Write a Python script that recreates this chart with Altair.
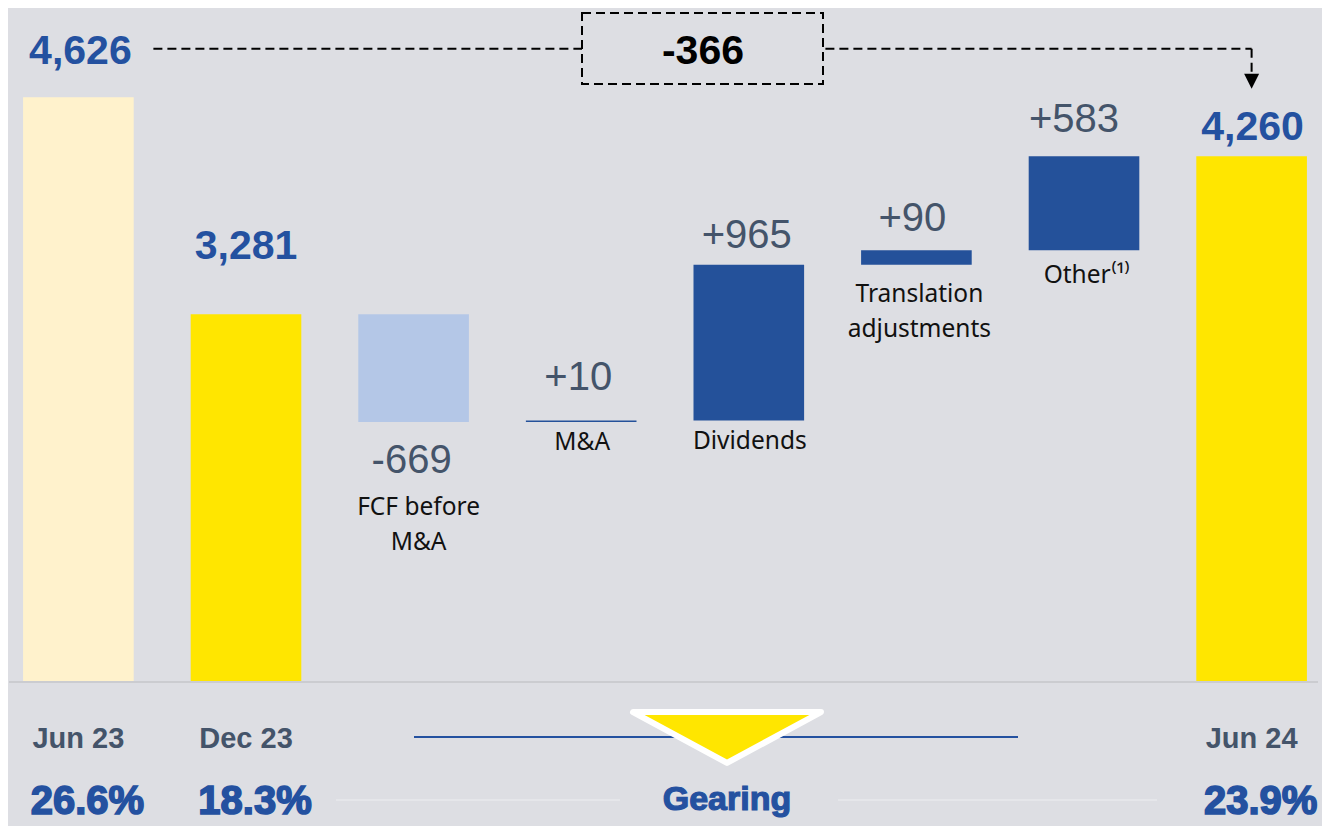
import altair as alt
import pandas as pd

# ---------------- data ----------------
CATS = ["Jun 23", "Dec 23", "FCF before M&A", "M&A", "Dividends",
        "Translation adjustments", "Other", "Jun 24"]
NAMES = [None, None, "FCF before\nM&A", "M&A", "Dividends",
         "Translation\nadjustments", "Other⁽¹⁾", None]
KIND = ["total", "total", "step", "step", "step", "step", "step", "total"]
VALUES = [4626, 3281, -669, 10, 965, 90, 583, 4260]
COLORS = ["#fff2cc", "#ffe600", "#b4c7e7", "#24519a", "#24519a",
          "#24519a", "#24519a", "#ffe600"]
PERIODS = ["Jun 23", "Dec 23", "Jun 24"]
GEARING = [26.6, 18.3, 23.9]
BASE = 1000  # truncated baseline of the original chart

# ---------------- derived table ----------------
rows = []
running = None
for c, n, k, v, col in zip(CATS, NAMES, KIND, VALUES, COLORS):
    if k == "total":
        y0, y1 = BASE, v
        running = v
        lab = f"{v:,}"
    else:
        y0, y1 = running, running + v
        running = y1
        lab = f"{v:+d}"
    rows.append(dict(cat=c, name=n, kind=k, y0=y0, y1=y1, top=max(y0, y1),
                     bottom=min(y0, y1), color=col, label=lab))
df = pd.DataFrame(rows)
net_change = f"{VALUES[-1] - VALUES[0]:+,}"

gdf = pd.DataFrame({"cat": PERIODS, "g": [f"{g:.1f}%" for g in GEARING]})

# ---------------- layout / scales ----------------
W, H = 1314, 818
PLOT_BASE_PX = 674
Y_TOP = 5180
Y_BOTTOM = Y_TOP - (Y_TOP - BASE) * H / PLOT_BASE_PX

xscale = alt.Scale(domain=CATS, paddingInner=0.34, paddingOuter=0.09)
yscale = alt.Scale(domain=[Y_BOTTOM, Y_TOP], zero=False, nice=False)
X = alt.X("cat:N", scale=xscale, axis=None, sort=CATS)

BLUE = "#2451a0"
SLATE = "#44546a"
BG = "#dddee3"
one = pd.DataFrame({"k": [0]})

bars = alt.Chart(df).mark_bar().encode(
    x=X,
    y=alt.Y("y0:Q", scale=yscale, axis=None),
    y2="y1:Q",
    color=alt.Color("color:N", scale=None),
)

baseline = alt.Chart(one).mark_rule(color="#cbccd0", strokeWidth=2).encode(
    x=alt.value(1), x2=alt.value(1310), y=alt.value(PLOT_BASE_PX)
)

# dashed connector from Jun 23 to Jun 24
conn_df = pd.DataFrame({"cat": ["Jun 23"], "cat2": ["Jun 24"], "y": [VALUES[0]]})
connector = alt.Chart(conn_df).mark_rule(
    color="black", strokeWidth=2, strokeDash=[9, 5], xOffset=75, yOffset=-48.5
).encode(x=X, x2="cat2:N", y=alt.Y("y:Q", scale=yscale))

vert_df = pd.DataFrame({"cat": ["Jun 24"], "y": [VALUES[0]], "y2": [VALUES[-1]]})
vertical = alt.Chart(vert_df).mark_rule(
    color="black", strokeWidth=2, strokeDash=[9, 5], yOffset=-48.5, y2Offset=-80
).encode(x=X, y=alt.Y("y:Q", scale=yscale), y2="y2:Q")

arrow_df = pd.DataFrame({"cat": ["Jun 24"], "y": [VALUES[-1]]})
arrowhead = alt.Chart(arrow_df).mark_point(
    shape="M-1,-1L1,-1L0,1Z", size=225, filled=True, color="black",
    opacity=1, yOffset=-75
).encode(x=X, y=alt.Y("y:Q", scale=yscale))

box = alt.Chart(one).mark_rect(
    fill=BG, stroke="black", strokeWidth=2, strokeDash=[9, 5]
).encode(x=alt.value(574), x2=alt.value(815), y=alt.value(5), y2=alt.value(76))

box_text = alt.Chart(pd.DataFrame({"t": [net_change]})).mark_text(
    font="Liberation Sans", fontSize=41, fontWeight="bold", color="black",
    baseline="alphabetic", align="center"
).encode(x=alt.value(695), y=alt.value(56), text="t:N")

# value labels (dx, dy, anchor field)
LABEL_POS = {
    "Jun 23": (2, -33, "top"),
    "Dec 23": (0, -55, "top"),
    "Jun 24": (1, -16, "top"),
    "FCF before M&A": (-2, 51, "bottom"),
    "M&A": (-3, -30, "top"),
    "Dividends": (-2, -17, "top"),
    "Translation adjustments": (-4, -19, "top"),
    "Other": (-10, -24, "top"),
}
NAME_POS = {
    "FCF before M&A": (5, 93),
    "M&A": (1, 28),
    "Dividends": (1, 29),
    "Translation adjustments": (3, 37),
    "Other": (3, 33),
}

text_layers = []
for c, (dx, dy, anchor) in LABEL_POS.items():
    kind = df.loc[df.cat == c, "kind"].iloc[0]
    if kind == "total":
        style = dict(font="Liberation Sans", fontSize=41, fontWeight="bold", color=BLUE)
    else:
        style = dict(font="Liberation Sans", fontSize=40, color=SLATE)
    text_layers.append(
        alt.Chart(df).transform_filter(alt.datum.cat == c).mark_text(
            dx=dx, dy=dy, baseline="alphabetic", align="center", **style
        ).encode(x=X, y=alt.Y(f"{anchor}:Q", scale=yscale), text="label:N")
    )
for c, (dx, dy) in NAME_POS.items():
    text_layers.append(
        alt.Chart(df).transform_filter(alt.datum.cat == c).mark_text(
            dx=dx, dy=dy, baseline="alphabetic", align="center",
            font="Noto Sans", fontSize=24.5, color="#111111",
            lineBreak="\n", lineHeight=35
        ).encode(x=X, y=alt.Y("bottom:Q", scale=yscale), text="name:N")
    )

# bottom section
blue_line = alt.Chart(one).mark_rule(color=BLUE, strokeWidth=2).encode(
    x=alt.value(406), x2=alt.value(1010), y=alt.value(729)
)
faint1 = alt.Chart(one).mark_rule(color="#e5e6ea", strokeWidth=2).encode(
    x=alt.value(328), x2=alt.value(612), y=alt.value(792)
)
faint2 = alt.Chart(one).mark_rule(color="#e5e6ea", strokeWidth=2).encode(
    x=alt.value(830), x2=alt.value(1149), y=alt.value(792)
)
triangle = alt.Chart(one).mark_point(
    shape="M-1,-0.27L1,-0.27L0,0.27Z", size=35344, filled=True,
    fill="#ffe600", stroke="white", strokeWidth=6, strokeJoin="round",
    opacity=1, fillOpacity=1, strokeOpacity=1
).encode(x=alt.value(719), y=alt.value(729.5))

periods = alt.Chart(gdf).mark_text(
    font="Liberation Sans", fontSize=29, fontWeight="bold", color=SLATE,
    baseline="alphabetic", align="center"
).encode(x=X, y=alt.value(740), text="cat:N")

gearing_vals = alt.Chart(gdf).mark_text(
    font="Liberation Sans", fontSize=40, fontWeight="bold", color=BLUE,
    stroke=BLUE, strokeWidth=1.6,
    baseline="alphabetic", align="center", dx=9
).encode(x=X, y=alt.value(806), text="g:N")

gearing_title = alt.Chart(pd.DataFrame({"t": ["Gearing"]})).mark_text(
    font="Liberation Sans", fontSize=34, fontWeight="bold", color=BLUE,
    stroke=BLUE, strokeWidth=1.2,
    baseline="alphabetic", align="center"
).encode(x=alt.value(719), y=alt.value(802), text="t:N")

chart = alt.layer(
    bars, baseline, connector, vertical, arrowhead, box, box_text,
    *text_layers, blue_line, faint1, faint2, triangle, periods,
    gearing_vals, gearing_title
).properties(
    width=W, height=H,
    autosize=alt.AutoSizeParams(type="none"),
    padding=0,
    background=BG,
).configure_view(stroke=None)

chart.save("out.html", embed_options={"renderer": "svg", "actions": False})
